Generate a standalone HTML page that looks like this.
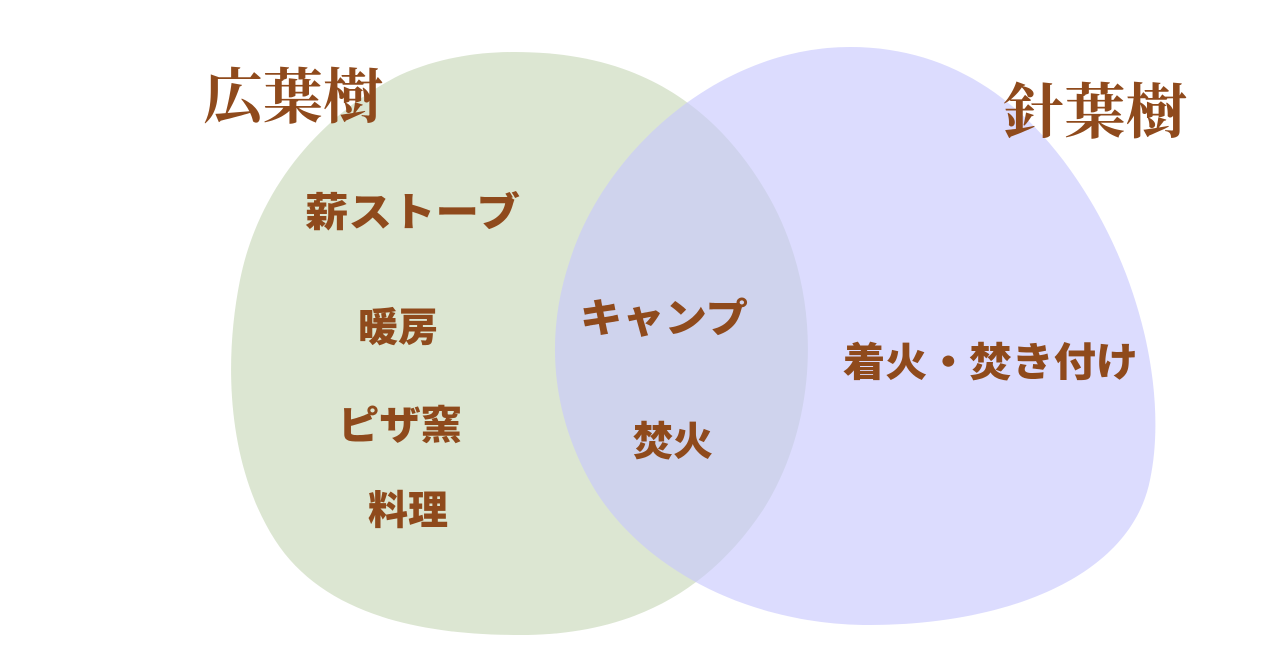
<!DOCTYPE html>
<html><head><meta charset="utf-8"><style>
html,body{margin:0;padding:0;background:#fff;}
svg{display:block}
.t{font-family:"Liberation Serif","Noto Serif CJK JP","Noto Serif CJK SC",serif;fill:#8f4a1c;font-size:60px;font-weight:bold;}
.l{font-family:"Liberation Sans","Noto Sans CJK JP",sans-serif;fill:#8f4a1c;font-size:40px;font-weight:900;}
</style></head><body>
<svg width="1280" height="670" viewBox="0 0 1280 670">
<path fill="#dce6d2" d="M515,52 C620,52 705,90 765,190 C825,290 820,420 763,510 C703,600 620,635 520,635 C410,635 320,610 275,540 C230,470 222,370 240,280 C260,180 330,110 400,75 C440,57 480,52 515,52Z"/>
<path fill="rgb(199,199,253)" fill-opacity="0.63" d="M850,47 C950,47 1030,100 1090,200 C1150,300 1165,410 1150,480 C1130,580 1000,625 870,625 C750,625 645,570 595,490 C553,420 543,340 570,260 C605,150 720,47 850,47Z"/>
<text class="t" x="203" y="118" textLength="180" lengthAdjust="spacingAndGlyphs">広葉樹</text>
<text class="t" x="1003" y="133" textLength="184" lengthAdjust="spacingAndGlyphs">針葉樹</text>
<text class="l" x="305" y="226" textLength="215" lengthAdjust="spacingAndGlyphs">薪ストーブ</text>
<text class="l" x="358" y="341">暖房</text>
<text class="l" x="338" y="439" textLength="124" lengthAdjust="spacingAndGlyphs">ピザ窯</text>
<text class="l" x="368" y="524">料理</text>
<text class="l" x="580" y="332" textLength="168" lengthAdjust="spacingAndGlyphs">キャンプ</text>
<text class="l" x="633" y="455">焚火</text>
<text class="l" x="843" y="376" textLength="295" lengthAdjust="spacingAndGlyphs">着火・焚き付け</text>
</svg>
</body></html>
